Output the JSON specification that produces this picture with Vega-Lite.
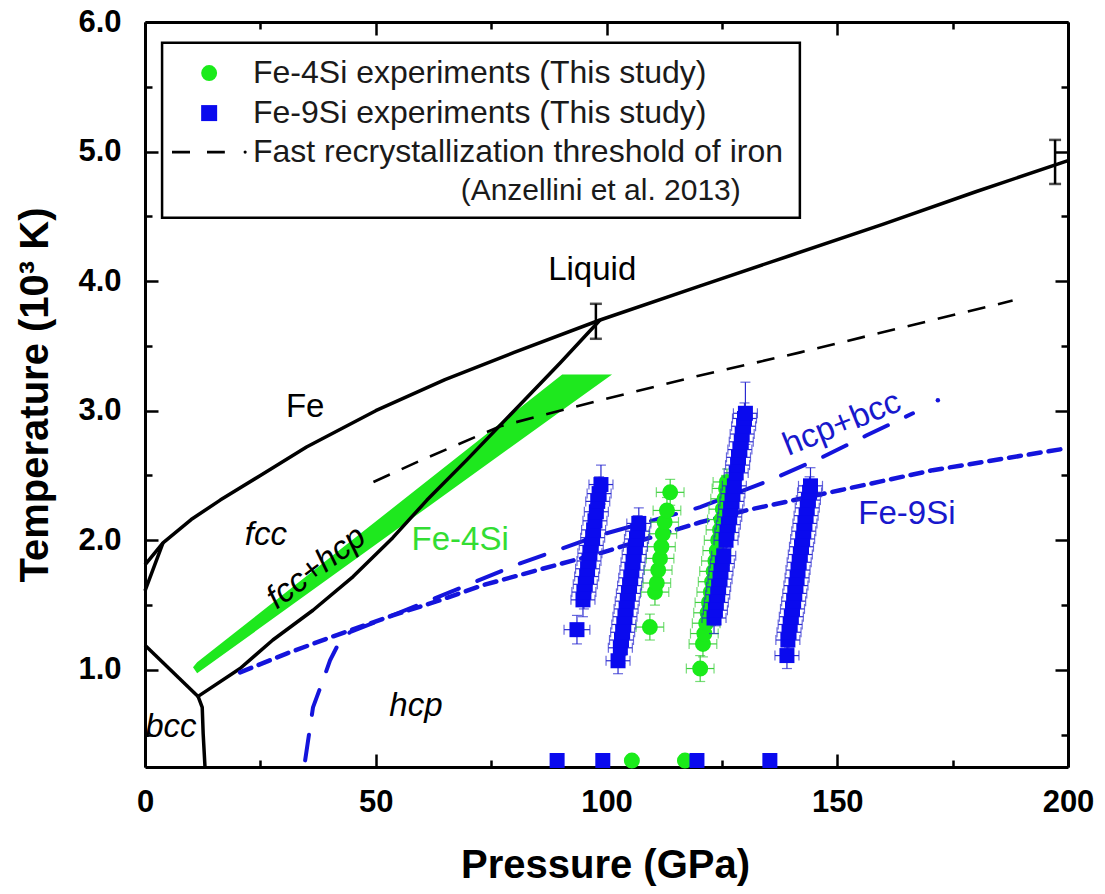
{
  "$schema": "https://vega.github.io/schema/vega-lite/v6.json",
  "width": 923,
  "height": 745,
  "autosize": "none",
  "padding": {"left": 145, "top": 22, "right": 37, "bottom": 127},
  "background": "white",
  "config": {
    "view": {"stroke": null},
    "font": "Liberation Sans",
    "axis": {
      "domainColor": "black", "domainWidth": 3, "tickColor": "black", "tickWidth": 2.5,
      "labelFont": "Liberation Sans", "labelFontWeight": "bold", "labelFontSize": 31, "labelColor": "black",
      "titleFont": "Liberation Sans", "titleFontWeight": "bold", "titleFontSize": 40, "titleColor": "black",
      "grid": false, "zindex": 1, "labelOverlap": false, "labelFlush": false
    }
  },
  "datasets": {
    "band": [
      {"P": 10.4, "Ttop": 1.02, "Tbot": 1.02},
      {"P": 11.3, "Ttop": 1.058, "Tbot": 0.973},
      {"P": 90.4, "Ttop": 3.28, "Tbot": 3.004},
      {"P": 101.2, "Ttop": 3.28, "Tbot": 3.28}
    ],
    "curves": [
      {"c": "melt", "P": 0, "T": 1.81}, {"c": "melt", "P": 3.9, "T": 1.98}, {"c": "melt", "P": 10, "T": 2.16},
      {"c": "melt", "P": 16.3, "T": 2.31}, {"c": "melt", "P": 25, "T": 2.5}, {"c": "melt", "P": 35, "T": 2.72},
      {"c": "melt", "P": 50, "T": 3.0}, {"c": "melt", "P": 65, "T": 3.24}, {"c": "melt", "P": 80, "T": 3.45},
      {"c": "melt", "P": 98.6, "T": 3.7}, {"c": "melt", "P": 120, "T": 3.96}, {"c": "melt", "P": 140, "T": 4.2},
      {"c": "melt", "P": 160, "T": 4.44}, {"c": "melt", "P": 180, "T": 4.69}, {"c": "melt", "P": 200, "T": 4.93},
      {"c": "delta", "P": 0, "T": 1.61}, {"c": "delta", "P": 3.9, "T": 1.98},
      {"c": "ag", "P": 0, "T": 1.19}, {"c": "ag", "P": 11.5, "T": 0.795},
      {"c": "ae", "P": 11.5, "T": 0.795}, {"c": "ae", "P": 12.4, "T": 0.71}, {"c": "ae", "P": 12.6, "T": 0.51}, {"c": "ae", "P": 13.0, "T": 0.25},
      {"c": "ge", "P": 11.5, "T": 0.795}, {"c": "ge", "P": 20.6, "T": 1.01}, {"c": "ge", "P": 27.7, "T": 1.23},
      {"c": "ge", "P": 36.4, "T": 1.46}, {"c": "ge", "P": 45.1, "T": 1.72}, {"c": "ge", "P": 53.7, "T": 2.02},
      {"c": "ge", "P": 61.1, "T": 2.31}, {"c": "ge", "P": 70, "T": 2.63}, {"c": "ge", "P": 80, "T": 3.0},
      {"c": "ge", "P": 90, "T": 3.37}, {"c": "ge", "P": 98.6, "T": 3.7}
    ],
    "recryst": [
      {"P": 49.5, "T": 2.45}, {"P": 60, "T": 2.62}, {"P": 77, "T": 2.88}, {"P": 98.6, "T": 3.08},
      {"P": 120, "T": 3.27}, {"P": 142, "T": 3.45}, {"P": 165, "T": 3.65}, {"P": 188, "T": 3.85}
    ],
    "blong": [
      {"P": 34.7, "T": 0.301}, {"P": 36.4, "T": 0.71}, {"P": 38.4, "T": 0.903}, {"P": 40.1, "T": 1.073},
      {"P": 42.3, "T": 1.228}, {"P": 44.4, "T": 1.29}, {"P": 50.9, "T": 1.382}, {"P": 61.8, "T": 1.537},
      {"P": 81.3, "T": 1.822}, {"P": 98.6, "T": 2.04}, {"P": 120.3, "T": 2.255}, {"P": 135.4, "T": 2.463},
      {"P": 146.3, "T": 2.633}, {"P": 156.4, "T": 2.81}, {"P": 166.4, "T": 2.98}
    ],
    "bshort": [
      {"P": 20.6, "T": 0.98}, {"P": 30.8, "T": 1.127}, {"P": 40.1, "T": 1.25}, {"P": 53.7, "T": 1.42},
      {"P": 63.9, "T": 1.537}, {"P": 73.2, "T": 1.653}, {"P": 84.9, "T": 1.768}, {"P": 98.6, "T": 1.9},
      {"P": 120.3, "T": 2.139}, {"P": 130.4, "T": 2.232}, {"P": 150.6, "T": 2.386}, {"P": 170.7, "T": 2.541},
      {"P": 199.8, "T": 2.71}
    ],
    "bdot": [{"P": 171.8, "T": 3.08}],
    "blackerr": [{"P": 97.7, "T": 3.69, "dT": 0.135}, {"P": 197.2, "T": 4.92, "dT": 0.17}],
    "exp": [
      {"s": "Fe-4Si", "P": 105.5, "T": 0.3, "dP": 0, "dT": 0},
      {"s": "Fe-4Si", "P": 117.0, "T": 0.3, "dP": 0, "dT": 0},
      {"s": "Fe-4Si", "P": 109.4, "T": 1.33, "dP": 3.0, "dT": 0.1},
      {"s": "Fe-4Si", "P": 110.5, "T": 1.60, "dP": 3.0, "dT": 0.1},
      {"s": "Fe-4Si", "P": 110.9, "T": 1.67, "dP": 3.0, "dT": 0.1},
      {"s": "Fe-4Si", "P": 111.2, "T": 1.77, "dP": 3.0, "dT": 0.1},
      {"s": "Fe-4Si", "P": 111.6, "T": 1.86, "dP": 3.0, "dT": 0.1},
      {"s": "Fe-4Si", "P": 111.9, "T": 1.95, "dP": 3.0, "dT": 0.1},
      {"s": "Fe-4Si", "P": 112.2, "T": 2.05, "dP": 3.0, "dT": 0.1},
      {"s": "Fe-4Si", "P": 112.6, "T": 2.14, "dP": 3.0, "dT": 0.1},
      {"s": "Fe-4Si", "P": 113.1, "T": 2.23, "dP": 3.0, "dT": 0.1},
      {"s": "Fe-4Si", "P": 113.8, "T": 2.37, "dP": 3.0, "dT": 0.1},
      {"s": "Fe-4Si", "P": 120.3, "T": 1.01, "dP": 3.0, "dT": 0.1},
      {"s": "Fe-4Si", "P": 120.9, "T": 1.20, "dP": 3.0, "dT": 0.1},
      {"s": "Fe-4Si", "P": 121.2, "T": 1.28, "dP": 3.0, "dT": 0.1},
      {"s": "Fe-4Si", "P": 121.6, "T": 1.36, "dP": 3.0, "dT": 0.1},
      {"s": "Fe-4Si", "P": 121.9, "T": 1.44, "dP": 3.0, "dT": 0.1},
      {"s": "Fe-4Si", "P": 122.2, "T": 1.52, "dP": 3.0, "dT": 0.1},
      {"s": "Fe-4Si", "P": 122.6, "T": 1.60, "dP": 3.0, "dT": 0.1},
      {"s": "Fe-4Si", "P": 122.9, "T": 1.68, "dP": 3.0, "dT": 0.1},
      {"s": "Fe-4Si", "P": 123.2, "T": 1.76, "dP": 3.0, "dT": 0.1},
      {"s": "Fe-4Si", "P": 123.6, "T": 1.84, "dP": 3.0, "dT": 0.1},
      {"s": "Fe-4Si", "P": 123.9, "T": 1.92, "dP": 3.0, "dT": 0.1},
      {"s": "Fe-4Si", "P": 124.2, "T": 2.00, "dP": 3.0, "dT": 0.1},
      {"s": "Fe-4Si", "P": 124.6, "T": 2.08, "dP": 3.0, "dT": 0.1},
      {"s": "Fe-4Si", "P": 124.9, "T": 2.16, "dP": 3.0, "dT": 0.1},
      {"s": "Fe-4Si", "P": 125.2, "T": 2.24, "dP": 3.0, "dT": 0.1},
      {"s": "Fe-4Si", "P": 125.6, "T": 2.32, "dP": 3.0, "dT": 0.1},
      {"s": "Fe-4Si", "P": 125.9, "T": 2.40, "dP": 3.0, "dT": 0.1},
      {"s": "Fe-4Si", "P": 126.1, "T": 2.45, "dP": 3.0, "dT": 0.1},
      {"s": "Fe-9Si", "P": 89.3, "T": 0.3, "dP": 0, "dT": 0},
      {"s": "Fe-9Si", "P": 99.2, "T": 0.3, "dP": 0, "dT": 0},
      {"s": "Fe-9Si", "P": 119.6, "T": 0.3, "dP": 0, "dT": 0},
      {"s": "Fe-9Si", "P": 135.4, "T": 0.3, "dP": 0, "dT": 0},
      {"s": "Fe-9Si", "P": 93.6, "T": 1.31, "dP": 2.8, "dT": 0.11},
      {"s": "Fe-9Si", "P": 94.9, "T": 1.54, "dP": 2.6, "dT": 0.13},
      {"s": "Fe-9Si", "P": 95.1, "T": 1.60, "dP": 2.6, "dT": 0.13},
      {"s": "Fe-9Si", "P": 95.4, "T": 1.66, "dP": 2.6, "dT": 0.13},
      {"s": "Fe-9Si", "P": 95.7, "T": 1.72, "dP": 2.6, "dT": 0.13},
      {"s": "Fe-9Si", "P": 95.9, "T": 1.78, "dP": 2.6, "dT": 0.13},
      {"s": "Fe-9Si", "P": 96.2, "T": 1.84, "dP": 2.6, "dT": 0.13},
      {"s": "Fe-9Si", "P": 96.4, "T": 1.90, "dP": 2.6, "dT": 0.13},
      {"s": "Fe-9Si", "P": 96.7, "T": 1.96, "dP": 2.6, "dT": 0.13},
      {"s": "Fe-9Si", "P": 97.0, "T": 2.02, "dP": 2.6, "dT": 0.13},
      {"s": "Fe-9Si", "P": 97.2, "T": 2.08, "dP": 2.6, "dT": 0.13},
      {"s": "Fe-9Si", "P": 97.5, "T": 2.15, "dP": 2.6, "dT": 0.13},
      {"s": "Fe-9Si", "P": 97.8, "T": 2.22, "dP": 2.6, "dT": 0.13},
      {"s": "Fe-9Si", "P": 98.1, "T": 2.30, "dP": 2.6, "dT": 0.13},
      {"s": "Fe-9Si", "P": 98.4, "T": 2.36, "dP": 2.6, "dT": 0.13},
      {"s": "Fe-9Si", "P": 98.8, "T": 2.43, "dP": 2.6, "dT": 0.15},
      {"s": "Fe-9Si", "P": 102.5, "T": 1.07, "dP": 2.6, "dT": 0.1},
      {"s": "Fe-9Si", "P": 103.0, "T": 1.17, "dP": 2.6, "dT": 0.12},
      {"s": "Fe-9Si", "P": 103.25, "T": 1.23, "dP": 2.6, "dT": 0.12},
      {"s": "Fe-9Si", "P": 103.5, "T": 1.29, "dP": 2.6, "dT": 0.12},
      {"s": "Fe-9Si", "P": 103.75, "T": 1.35, "dP": 2.6, "dT": 0.12},
      {"s": "Fe-9Si", "P": 104.0, "T": 1.41, "dP": 2.6, "dT": 0.12},
      {"s": "Fe-9Si", "P": 104.25, "T": 1.47, "dP": 2.6, "dT": 0.12},
      {"s": "Fe-9Si", "P": 104.5, "T": 1.53, "dP": 2.6, "dT": 0.12},
      {"s": "Fe-9Si", "P": 104.75, "T": 1.59, "dP": 2.6, "dT": 0.12},
      {"s": "Fe-9Si", "P": 105.0, "T": 1.65, "dP": 2.6, "dT": 0.12},
      {"s": "Fe-9Si", "P": 105.25, "T": 1.71, "dP": 2.6, "dT": 0.12},
      {"s": "Fe-9Si", "P": 105.5, "T": 1.77, "dP": 2.6, "dT": 0.12},
      {"s": "Fe-9Si", "P": 105.75, "T": 1.83, "dP": 2.6, "dT": 0.12},
      {"s": "Fe-9Si", "P": 106.0, "T": 1.89, "dP": 2.6, "dT": 0.12},
      {"s": "Fe-9Si", "P": 106.25, "T": 1.95, "dP": 2.6, "dT": 0.12},
      {"s": "Fe-9Si", "P": 106.5, "T": 2.01, "dP": 2.6, "dT": 0.12},
      {"s": "Fe-9Si", "P": 106.75, "T": 2.07, "dP": 2.6, "dT": 0.12},
      {"s": "Fe-9Si", "P": 107.0, "T": 2.13, "dP": 2.6, "dT": 0.12},
      {"s": "Fe-9Si", "P": 123.3, "T": 1.40, "dP": 2.6, "dT": 0.12},
      {"s": "Fe-9Si", "P": 123.6, "T": 1.46, "dP": 2.6, "dT": 0.12},
      {"s": "Fe-9Si", "P": 123.8, "T": 1.52, "dP": 2.6, "dT": 0.12},
      {"s": "Fe-9Si", "P": 124.1, "T": 1.58, "dP": 2.6, "dT": 0.12},
      {"s": "Fe-9Si", "P": 124.3, "T": 1.64, "dP": 2.6, "dT": 0.12},
      {"s": "Fe-9Si", "P": 124.6, "T": 1.70, "dP": 2.6, "dT": 0.12},
      {"s": "Fe-9Si", "P": 124.8, "T": 1.76, "dP": 2.6, "dT": 0.12},
      {"s": "Fe-9Si", "P": 125.1, "T": 1.82, "dP": 2.6, "dT": 0.12},
      {"s": "Fe-9Si", "P": 125.4, "T": 1.88, "dP": 2.6, "dT": 0.12},
      {"s": "Fe-9Si", "P": 125.9, "T": 2.00, "dP": 2.6, "dT": 0.12},
      {"s": "Fe-9Si", "P": 126.1, "T": 2.06, "dP": 2.6, "dT": 0.12},
      {"s": "Fe-9Si", "P": 126.4, "T": 2.12, "dP": 2.6, "dT": 0.12},
      {"s": "Fe-9Si", "P": 126.7, "T": 2.18, "dP": 2.6, "dT": 0.12},
      {"s": "Fe-9Si", "P": 126.9, "T": 2.24, "dP": 2.6, "dT": 0.12},
      {"s": "Fe-9Si", "P": 127.2, "T": 2.30, "dP": 2.6, "dT": 0.12},
      {"s": "Fe-9Si", "P": 127.4, "T": 2.36, "dP": 2.6, "dT": 0.12},
      {"s": "Fe-9Si", "P": 127.7, "T": 2.42, "dP": 2.6, "dT": 0.12},
      {"s": "Fe-9Si", "P": 128.1, "T": 2.52, "dP": 2.6, "dT": 0.12},
      {"s": "Fe-9Si", "P": 128.4, "T": 2.58, "dP": 2.6, "dT": 0.12},
      {"s": "Fe-9Si", "P": 128.6, "T": 2.64, "dP": 2.6, "dT": 0.12},
      {"s": "Fe-9Si", "P": 128.9, "T": 2.70, "dP": 2.6, "dT": 0.12},
      {"s": "Fe-9Si", "P": 129.2, "T": 2.76, "dP": 2.6, "dT": 0.12},
      {"s": "Fe-9Si", "P": 129.4, "T": 2.82, "dP": 2.6, "dT": 0.12},
      {"s": "Fe-9Si", "P": 129.7, "T": 2.88, "dP": 2.6, "dT": 0.12},
      {"s": "Fe-9Si", "P": 129.9, "T": 2.94, "dP": 2.6, "dT": 0.12},
      {"s": "Fe-9Si", "P": 130.1, "T": 2.98, "dP": 2.6, "dT": 0.24},
      {"s": "Fe-9Si", "P": 139.1, "T": 1.11, "dP": 2.6, "dT": 0.1},
      {"s": "Fe-9Si", "P": 139.3, "T": 1.23, "dP": 2.6, "dT": 0.12},
      {"s": "Fe-9Si", "P": 139.55, "T": 1.29, "dP": 2.6, "dT": 0.12},
      {"s": "Fe-9Si", "P": 139.8, "T": 1.35, "dP": 2.6, "dT": 0.12},
      {"s": "Fe-9Si", "P": 140.05, "T": 1.41, "dP": 2.6, "dT": 0.12},
      {"s": "Fe-9Si", "P": 140.3, "T": 1.47, "dP": 2.6, "dT": 0.12},
      {"s": "Fe-9Si", "P": 140.55, "T": 1.53, "dP": 2.6, "dT": 0.12},
      {"s": "Fe-9Si", "P": 140.8, "T": 1.59, "dP": 2.6, "dT": 0.12},
      {"s": "Fe-9Si", "P": 141.05, "T": 1.65, "dP": 2.6, "dT": 0.12},
      {"s": "Fe-9Si", "P": 141.3, "T": 1.71, "dP": 2.6, "dT": 0.12},
      {"s": "Fe-9Si", "P": 141.5, "T": 1.77, "dP": 2.6, "dT": 0.12},
      {"s": "Fe-9Si", "P": 141.75, "T": 1.83, "dP": 2.6, "dT": 0.12},
      {"s": "Fe-9Si", "P": 142.0, "T": 1.89, "dP": 2.6, "dT": 0.12},
      {"s": "Fe-9Si", "P": 142.25, "T": 1.95, "dP": 2.6, "dT": 0.12},
      {"s": "Fe-9Si", "P": 142.5, "T": 2.01, "dP": 2.6, "dT": 0.12},
      {"s": "Fe-9Si", "P": 142.75, "T": 2.07, "dP": 2.6, "dT": 0.12},
      {"s": "Fe-9Si", "P": 143.0, "T": 2.13, "dP": 2.6, "dT": 0.12},
      {"s": "Fe-9Si", "P": 143.25, "T": 2.19, "dP": 2.6, "dT": 0.12},
      {"s": "Fe-9Si", "P": 143.5, "T": 2.25, "dP": 2.6, "dT": 0.12},
      {"s": "Fe-9Si", "P": 143.75, "T": 2.31, "dP": 2.6, "dT": 0.12},
      {"s": "Fe-9Si", "P": 144.0, "T": 2.37, "dP": 2.6, "dT": 0.12},
      {"s": "Fe-9Si", "P": 144.2, "T": 2.42, "dP": 2.6, "dT": 0.14}
    ],
    "labs": [
      {"t": "Liquid", "P": 96.9, "T": 4.085},
      {"t": "Fe", "P": 34.7, "T": 3.03},
      {"t": "fcc", "P": 26.2, "T": 2.04},
      {"t": "fcc+hcp", "P": 37.1, "T": 1.79},
      {"t": "Fe-4Si", "P": 68.3, "T": 2.0},
      {"t": "bcc", "P": 5.6, "T": 0.556},
      {"t": "hcp", "P": 58.7, "T": 0.72},
      {"t": "hcp+bcc", "P": 151.0, "T": 2.9},
      {"t": "Fe-9Si", "P": 165.1, "T": 2.2}
    ],
    "legbox": [{"P1": 3.7, "P2": 141.9, "T1": 4.49, "T2": 5.84}],
    "legline": [{"P": 5.85, "T": 4.996}, {"P": 17.3, "T": 4.996}],
    "legdot": [{"P": 21.7, "T": 4.996}],
    "legpts": [{"s": "Fe-4Si", "P": 13.9, "T": 5.606}, {"s": "Fe-9Si", "P": 13.9, "T": 5.297}],
    "legtext": [
      {"t": "Fe-4Si experiments (This study)", "P": 23.4, "T": 5.606},
      {"t": "Fe-9Si experiments (This study)", "P": 23.4, "T": 5.297},
      {"t": "Fast recrystallization threshold of iron", "P": 23.4, "T": 4.996}
    ],
    "legtext2": [{"t": "(Anzellini et al. 2013)", "P": 129.1, "T": 4.695}]
  },
  "layer": [
    {
      "data": {"name": "band"},
      "mark": {"type": "area", "color": "#1ee81e", "opacity": 1},
      "encoding": {
        "x": {"field": "P", "type": "quantitative", "scale": {"domain": [0, 200], "nice": false, "zero": false},
          "axis": {"orient": "bottom", "values": [0, 25, 50, 75, 100, 125, 150, 175, 200],
            "labelExpr": "datum.value % 50 === 0 ? datum.label : ''",
            "tickSize": {"condition": {"test": "datum.value % 50 === 0", "value": -13}, "value": -7},
            "labelPadding": 33, "title": "Pressure (GPa)", "titleX": 460, "titleY": 98, "titleBaseline": "middle"}},
        "y": {"field": "Ttop", "type": "quantitative", "scale": {"domain": [0.25, 6.0], "nice": false, "zero": false},
          "axis": {"orient": "left", "values": [0.5, 1, 1.5, 2, 2.5, 3, 3.5, 4, 4.5, 5, 5.5, 6],
            "labelExpr": "datum.value % 1 === 0 ? format(datum.value, '.1f') : ''",
            "tickSize": {"condition": {"test": "datum.value % 1 === 0", "value": -13}, "value": -7},
            "labelPadding": 37, "title": "Temperature (10³ K)", "titleX": -110, "titleY": 372.5,
            "titleAngle": -90, "titleBaseline": "middle", "titleAlign": "center"}},
        "y2": {"field": "Tbot"}
      }
    },
    {
      "data": {"name": "curves"},
      "mark": {"type": "line", "color": "black", "strokeWidth": 3.5, "strokeJoin": "round"},
      "encoding": {
        "x": {"field": "P", "type": "quantitative", "scale": {"domain": [0, 200], "nice": false, "zero": false},
          "axis": {"orient": "top", "values": [0, 25, 50, 75, 100, 125, 150, 175, 200], "labels": false, "title": null,
            "tickSize": {"condition": {"test": "datum.value % 50 === 0", "value": -13}, "value": -7}}},
        "y": {"field": "T", "type": "quantitative", "scale": {"domain": [0.25, 6.0], "nice": false, "zero": false},
          "axis": {"orient": "right", "values": [0.5, 1, 1.5, 2, 2.5, 3, 3.5, 4, 4.5, 5, 5.5, 6], "labels": false, "title": null,
            "tickSize": {"condition": {"test": "datum.value % 1 === 0", "value": -13}, "value": -7}}},
        "detail": {"field": "c"}
      }
    },
    {
      "data": {"name": "recryst"},
      "mark": {"type": "line", "color": "black", "strokeWidth": 2.6, "strokeDash": [18, 13]},
      "encoding": {
        "x": {"field": "P", "type": "quantitative", "axis": null},
        "y": {"field": "T", "type": "quantitative", "axis": null}
      }
    },
    {
      "data": {"name": "blong"},
      "mark": {"type": "line", "color": "#1414dc", "strokeWidth": 4, "strokeDash": [26, 20], "strokeCap": "round"},
      "encoding": {
        "x": {"field": "P", "type": "quantitative", "axis": null},
        "y": {"field": "T", "type": "quantitative", "axis": null},
        "order": {"field": "T"}
      }
    },
    {
      "data": {"name": "bdot"},
      "mark": {"type": "point", "filled": true, "color": "#1414dc", "size": 20, "opacity": 1},
      "encoding": {
        "x": {"field": "P", "type": "quantitative", "axis": null},
        "y": {"field": "T", "type": "quantitative", "axis": null}
      }
    },
    {
      "data": {"name": "bshort"},
      "mark": {"type": "line", "color": "#1414dc", "strokeWidth": 4.5, "strokeDash": [12, 8], "strokeCap": "round"},
      "encoding": {
        "x": {"field": "P", "type": "quantitative", "axis": null},
        "y": {"field": "T", "type": "quantitative", "axis": null}
      }
    },
    {
      "data": {"name": "blackerr"},
      "mark": {"type": "errorbar", "ticks": true, "size": 12, "thickness": 2.5, "color": "black"},
      "encoding": {
        "x": {"field": "P", "type": "quantitative", "axis": null},
        "y": {"field": "T", "type": "quantitative", "axis": null},
        "yError": {"field": "dT"}
      }
    },
    {
      "data": {"name": "exp"},
      "transform": [{"filter": "datum.s === 'Fe-4Si' && datum.dP > 0"}],
      "mark": {"type": "errorbar", "ticks": true, "size": 10, "thickness": 1.2, "color": "#3ccf3c"},
      "encoding": {
        "x": {"field": "P", "type": "quantitative", "axis": null},
        "xError": {"field": "dP"},
        "y": {"field": "T", "type": "quantitative", "axis": null}
      }
    },
    {
      "data": {"name": "exp"},
      "transform": [{"filter": "datum.s === 'Fe-4Si' && datum.dP > 0"}],
      "mark": {"type": "errorbar", "ticks": true, "size": 10, "thickness": 1.2, "color": "#3ccf3c"},
      "encoding": {
        "x": {"field": "P", "type": "quantitative", "axis": null},
        "y": {"field": "T", "type": "quantitative", "axis": null},
        "yError": {"field": "dT"}
      }
    },
    {
      "data": {"name": "exp"},
      "transform": [{"filter": "datum.s === 'Fe-4Si'"}],
      "mark": {"type": "point", "shape": "circle", "filled": true, "color": "#1aeb1a", "size": 254, "opacity": 1},
      "encoding": {
        "x": {"field": "P", "type": "quantitative", "axis": null},
        "y": {"field": "T", "type": "quantitative", "axis": null}
      }
    },
    {
      "data": {"name": "exp"},
      "transform": [{"filter": "datum.s === 'Fe-9Si' && datum.dP > 0"}],
      "mark": {"type": "errorbar", "ticks": true, "size": 10, "thickness": 1.2, "color": "#2a2ad0"},
      "encoding": {
        "x": {"field": "P", "type": "quantitative", "axis": null},
        "xError": {"field": "dP"},
        "y": {"field": "T", "type": "quantitative", "axis": null}
      }
    },
    {
      "data": {"name": "exp"},
      "transform": [{"filter": "datum.s === 'Fe-9Si' && datum.dP > 0"}],
      "mark": {"type": "errorbar", "ticks": true, "size": 10, "thickness": 1.2, "color": "#2a2ad0"},
      "encoding": {
        "x": {"field": "P", "type": "quantitative", "axis": null},
        "y": {"field": "T", "type": "quantitative", "axis": null},
        "yError": {"field": "dT"}
      }
    },
    {
      "data": {"name": "exp"},
      "transform": [{"filter": "datum.s === 'Fe-9Si'"}],
      "mark": {"type": "point", "shape": "square", "filled": true, "color": "#0a0aee", "size": 225, "opacity": 1},
      "encoding": {
        "x": {"field": "P", "type": "quantitative", "axis": null},
        "y": {"field": "T", "type": "quantitative", "axis": null}
      }
    },
    {
      "data": {"name": "labs"},
      "transform": [{"filter": "datum.t === 'Liquid' || datum.t === 'Fe'"}],
      "mark": {"type": "text", "font": "Liberation Sans", "fontSize": 33, "color": "black", "align": "center", "baseline": "middle"},
      "encoding": {
        "x": {"field": "P", "type": "quantitative", "axis": null},
        "y": {"field": "T", "type": "quantitative", "axis": null},
        "text": {"field": "t"}
      }
    },
    {
      "data": {"name": "labs"},
      "transform": [{"filter": "datum.t === 'fcc' || datum.t === 'bcc' || datum.t === 'hcp'"}],
      "mark": {"type": "text", "font": "Liberation Sans", "fontSize": 33, "fontStyle": "italic", "color": "black", "align": "center", "baseline": "middle"},
      "encoding": {
        "x": {"field": "P", "type": "quantitative", "axis": null},
        "y": {"field": "T", "type": "quantitative", "axis": null},
        "text": {"field": "t"}
      }
    },
    {
      "data": {"name": "labs"},
      "transform": [{"filter": "datum.t === 'fcc+hcp'"}],
      "mark": {"type": "text", "font": "Liberation Sans", "fontSize": 33, "fontStyle": "italic", "color": "black", "align": "center", "baseline": "middle", "angle": -37},
      "encoding": {
        "x": {"field": "P", "type": "quantitative", "axis": null},
        "y": {"field": "T", "type": "quantitative", "axis": null},
        "text": {"field": "t"}
      }
    },
    {
      "data": {"name": "labs"},
      "transform": [{"filter": "datum.t === 'Fe-4Si'"}],
      "mark": {"type": "text", "font": "Liberation Sans", "fontSize": 33, "color": "#33dd33", "align": "center", "baseline": "middle"},
      "encoding": {
        "x": {"field": "P", "type": "quantitative", "axis": null},
        "y": {"field": "T", "type": "quantitative", "axis": null},
        "text": {"field": "t"}
      }
    },
    {
      "data": {"name": "labs"},
      "transform": [{"filter": "datum.t === 'Fe-9Si'"}],
      "mark": {"type": "text", "font": "Liberation Sans", "fontSize": 33, "color": "#1818cc", "align": "center", "baseline": "middle"},
      "encoding": {
        "x": {"field": "P", "type": "quantitative", "axis": null},
        "y": {"field": "T", "type": "quantitative", "axis": null},
        "text": {"field": "t"}
      }
    },
    {
      "data": {"name": "labs"},
      "transform": [{"filter": "datum.t === 'hcp+bcc'"}],
      "mark": {"type": "text", "font": "Liberation Sans", "fontSize": 33, "color": "#1818cc", "align": "center", "baseline": "middle", "angle": -22},
      "encoding": {
        "x": {"field": "P", "type": "quantitative", "axis": null},
        "y": {"field": "T", "type": "quantitative", "axis": null},
        "text": {"field": "t"}
      }
    },
    {
      "data": {"name": "legbox"},
      "mark": {"type": "rect", "fill": "white", "stroke": "black", "strokeWidth": 2.5},
      "encoding": {
        "x": {"field": "P1", "type": "quantitative", "axis": null},
        "x2": {"field": "P2"},
        "y": {"field": "T1", "type": "quantitative", "axis": null},
        "y2": {"field": "T2"}
      }
    },
    {
      "data": {"name": "legpts"},
      "transform": [{"filter": "datum.s === 'Fe-4Si'"}],
      "mark": {"type": "point", "shape": "circle", "filled": true, "color": "#1aeb1a", "size": 254, "opacity": 1},
      "encoding": {
        "x": {"field": "P", "type": "quantitative", "axis": null},
        "y": {"field": "T", "type": "quantitative", "axis": null}
      }
    },
    {
      "data": {"name": "legpts"},
      "transform": [{"filter": "datum.s === 'Fe-9Si'"}],
      "mark": {"type": "point", "shape": "square", "filled": true, "color": "#0a0aee", "size": 256, "opacity": 1},
      "encoding": {
        "x": {"field": "P", "type": "quantitative", "axis": null},
        "y": {"field": "T", "type": "quantitative", "axis": null}
      }
    },
    {
      "data": {"name": "legline"},
      "mark": {"type": "line", "color": "black", "strokeWidth": 2.6, "strokeDash": [18, 17]},
      "encoding": {
        "x": {"field": "P", "type": "quantitative", "axis": null},
        "y": {"field": "T", "type": "quantitative", "axis": null}
      }
    },
    {
      "data": {"name": "legdot"},
      "mark": {"type": "point", "filled": true, "color": "black", "size": 10, "opacity": 1},
      "encoding": {
        "x": {"field": "P", "type": "quantitative", "axis": null},
        "y": {"field": "T", "type": "quantitative", "axis": null}
      }
    },
    {
      "data": {"name": "legtext"},
      "mark": {"type": "text", "font": "Liberation Sans", "fontSize": 32, "color": "#1a1a1a", "align": "left", "baseline": "middle"},
      "encoding": {
        "x": {"field": "P", "type": "quantitative", "axis": null},
        "y": {"field": "T", "type": "quantitative", "axis": null},
        "text": {"field": "t"}
      }
    },
    {
      "data": {"name": "legtext2"},
      "mark": {"type": "text", "font": "Liberation Sans", "fontSize": 30, "color": "#1a1a1a", "align": "right", "baseline": "middle"},
      "encoding": {
        "x": {"field": "P", "type": "quantitative", "axis": null},
        "y": {"field": "T", "type": "quantitative", "axis": null},
        "text": {"field": "t"}
      }
    }
  ]
}
